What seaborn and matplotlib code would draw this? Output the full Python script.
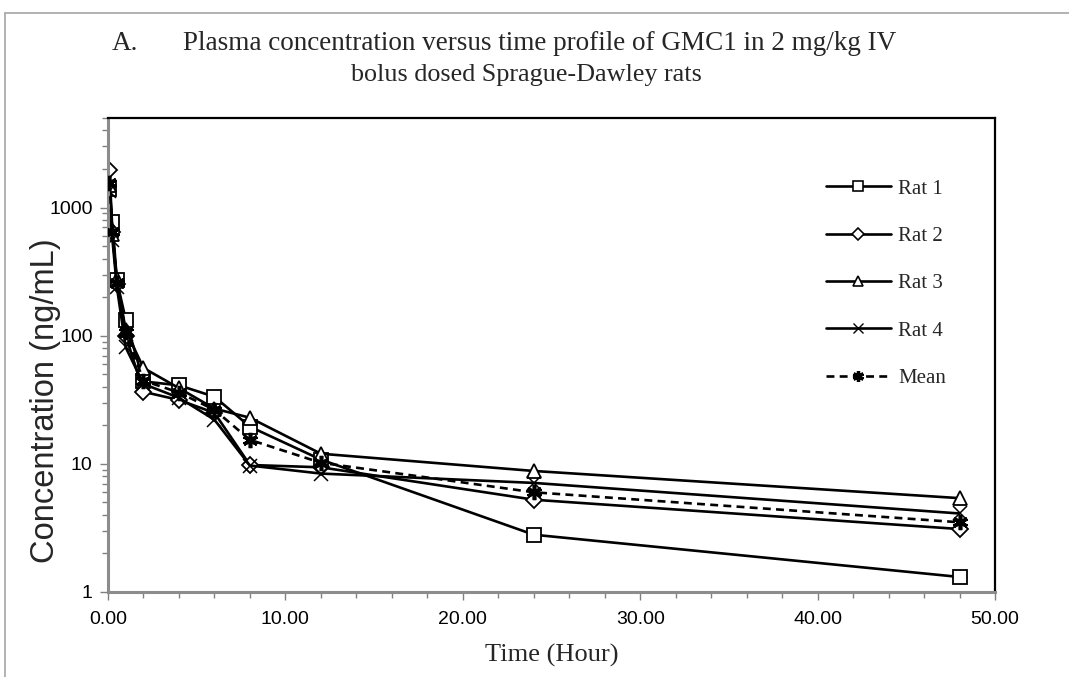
import matplotlib
matplotlib.use("Agg")
import matplotlib.pyplot as plt
import matplotlib.ticker as mticker
from matplotlib.lines import Line2D
import numpy as np
import pandas as pd
import seaborn as sns

# ---- data ----
time_h = [0.083, 0.25, 0.5, 1, 2, 4, 6, 8, 12, 24, 48]
rat1 = [1400, 770, 270, 133, 44, 41, 33.4, 19.5, 10.8, 2.8, 1.31]
rat2 = [1980, 650, 255, 100, 36.5, 31.5, 25, 9.8, 9.4, 5.25, 3.1]
rat3 = [1500, 620, 275, 110, 56, 39, 27, 22.9, 12.0, 8.8, 5.4]
rat4 = [1350, 560, 240, 81, 42, 32.8, 22.1, 9.7, 8.4, 7.1, 4.1]
mean = [1557, 650, 260, 106, 44.6, 36, 26.4, 15.4, 10.2, 6.0, 3.5]
series_names = ["Rat 1", "Rat 2", "Rat 3", "Rat 4", "Mean"]
x_ticks = [0, 10, 20, 30, 40, 50]
y_ticks = [1, 10, 100, 1000]

series_vals = [rat1, rat2, rat3, rat4, mean]

sns.set_style("white")
plt.rcParams["font.family"] = ["Liberation Sans", "DejaVu Sans"]

fig = plt.figure(figsize=(10.69, 6.77), dpi=100)
W, H = 1069, 677
ax_l, ax_r, ax_t, ax_b = 108, 995, 118, 592
ax = fig.add_axes([ax_l / W, 1 - ax_b / H, (ax_r - ax_l) / W, (ax_b - ax_t) / H])

markers = {"Rat 1": "s", "Rat 2": "D", "Rat 3": "^", "Rat 4": "x", "Mean": (6, 2, 0)}
msize = {"Rat 1": 9.5, "Rat 2": 8.5, "Rat 3": 9.5, "Rat 4": 10, "Mean": 11}
mew = {"Rat 1": 1.3, "Rat 2": 1.3, "Rat 3": 1.3, "Rat 4": 1.1, "Mean": 2.6}

lines = []
for name, vals in zip(series_names, series_vals):
    d = pd.DataFrame({"Time": time_h, "Conc": vals})
    n_before = len(ax.get_lines())
    sns.lineplot(data=d, x="Time", y="Conc", color="black", lw=1.9,
                 marker=markers[name], markersize=msize[name],
                 mec="black", mfc="white", mew=mew[name], ax=ax, legend=False)
    ln = ax.get_lines()[n_before]
    ln.set_color("black")
    ln.set_markeredgecolor("black")
    ln.set_markerfacecolor("white")
    if name == "Mean":
        ln.set_dashes((3, 2))
        ln.set_zorder(5)
    lines.append(ln)

ax.set_yscale("log")
ax.set_xlim(0, 50)
ax.set_ylim(1, 5000)
ax.set_xticks(x_ticks)
ax.xaxis.set_major_formatter(mticker.FormatStrFormatter("%.2f"))
ax.xaxis.set_minor_locator(mticker.MultipleLocator(2))
ax.yaxis.set_major_locator(mticker.FixedLocator(y_ticks))
ax.yaxis.set_major_formatter(mticker.FixedFormatter([str(v) for v in y_ticks]))
ax.yaxis.set_minor_locator(mticker.LogLocator(base=10, subs=np.arange(2, 10), numticks=20))
ax.yaxis.set_minor_formatter(mticker.NullFormatter())

ax.tick_params(axis="both", which="major", direction="out", length=6, width=1,
               color="#808080", labelsize=14, labelcolor="black", pad=5)
ax.tick_params(axis="both", which="minor", direction="out", length=4, width=1,
               color="#808080")
ax.tick_params(axis="x", which="major", pad=8)
ax.tick_params(axis="x", which="both", bottom=True)
ax.tick_params(axis="y", which="both", left=True)

for side in ["left", "bottom"]:
    ax.spines[side].set_color("#8c8c8c")
    ax.spines[side].set_linewidth(2.2)
for side in ["top", "right"]:
    ax.spines[side].set_color("black")
    ax.spines[side].set_linewidth(1.6)
    ax.spines[side].set_visible(True)

serif = ["Liberation Serif", "DejaVu Serif"]
ax.set_xlabel("Time (Hour)", family=serif, fontsize=19, labelpad=11)
ax.set_ylabel("Concentration (ng/mL)", fontsize=23.5)
ax.yaxis.set_label_coords(-0.053, 0.403)

# legend
handles = []
for ln in lines:
    h = Line2D([], [], color="black", lw=ln.get_linewidth(),
               marker=ln.get_marker(), markersize=ln.get_markersize() * 0.72,
               mfc="white", mec="black", mew=ln.get_markeredgewidth() * 0.9)
    if ln is lines[-1]:
        h.set_dashes((3, 2))
    handles.append(h)
ax.legend(handles, series_names, loc="upper left", bbox_to_anchor=(0.8095, 0.871),
          frameon=False, handlelength=3.1, handletextpad=0.35, labelspacing=1.33,
          borderpad=0, borderaxespad=0,
          prop={"family": serif, "size": 15})

# title
fig.text(112 / W, 1 - 44 / H, "A.", family=serif, fontsize=19.5, va="center", ha="left")
fig.text(183 / W, 1 - 44 / H, "Plasma concentration versus time profile of GMC1 in 2 mg/kg IV",
         family=serif, fontsize=19.5, va="center", ha="left")
fig.text(526 / W, 1 - 75 / H, "bolus dosed Sprague-Dawley rats",
         family=serif, fontsize=18.8, va="center", ha="center")

# outer frame lines
fig.add_artist(Line2D([5 / W, 1], [1 - 13 / H, 1 - 13 / H], color="#a6a6a6", lw=1.2,
                      transform=fig.transFigure))
fig.add_artist(Line2D([5 / W, 5 / W], [0, 1 - 13 / H], color="#a6a6a6", lw=1.2,
                      transform=fig.transFigure))

fig.savefig("out.png", dpi=100)
